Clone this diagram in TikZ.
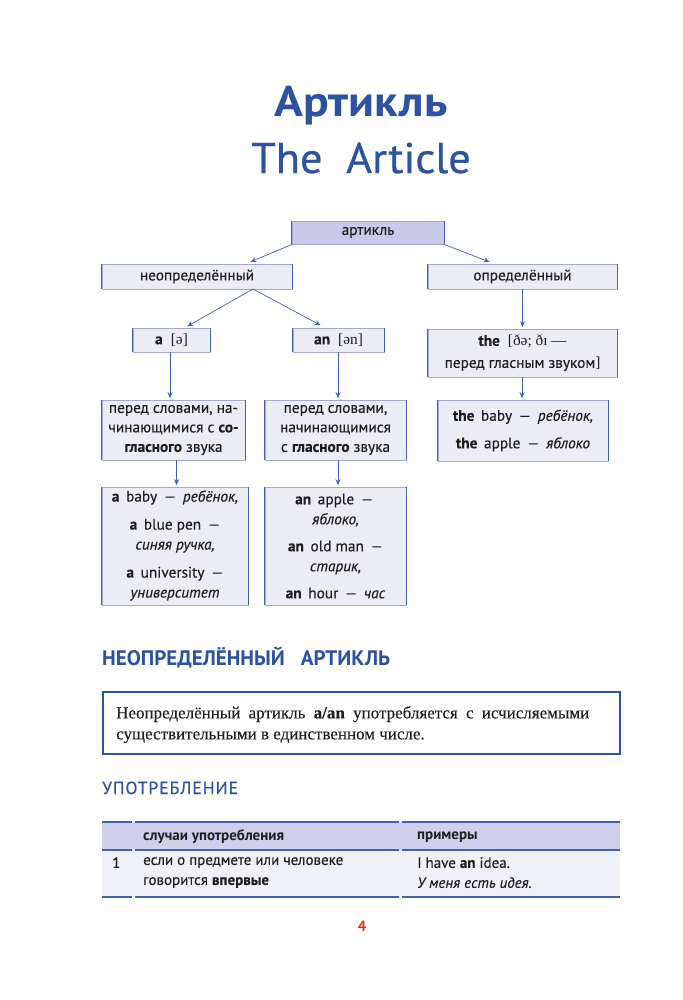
\documentclass[tikz,border=0pt]{standalone}
\usepackage{fontspec}
\setmainfont{PT Sans}
\newfontfamily\serif{Liberation Serif}
\usetikzlibrary{arrows.meta,calc}
\definecolor{tblue}{HTML}{2C52A0}
\definecolor{lblue}{HTML}{4262AC}
\definecolor{boxfill}{HTML}{ECECF7}
\definecolor{rootfill}{HTML}{C9C9E9}
\definecolor{edgecol}{HTML}{A3AACB}
\definecolor{hdrfill}{HTML}{D0D0EC}
\definecolor{rowfill}{HTML}{F0F0F8}
\definecolor{pnum}{HTML}{D8301E}
\definecolor{txt}{HTML}{1E1E1E}
\newcommand{\mydash}{\hspace{2.5pt} —\hspace{2.5pt} }
\begin{document}
\begin{tikzpicture}[x=1pt,y=-1pt,
  box/.style={draw=edgecol, line width=0.6pt, fill=boxfill, inner sep=0pt, align=center, text=txt,
    font=\fontsize{15.3}{19.5}\selectfont\addfontfeature{FakeBold=0.25}},
  arr/.style={draw=lblue, line width=0.7pt, -{Stealth[length=6pt,width=5pt]}, shorten >=1.5pt},
  side/.style={draw=lblue, line width=1pt},
  tline/.style={draw=lblue, line width=1.2pt},
  ttext/.style={anchor=west, inner sep=0pt, text=txt, font=\fontsize{15}{20}\selectfont\addfontfeature{FakeBold=0.2}, align=left}]
\useasboundingbox (0,0) rectangle (682,1000);

% title
\node[text=tblue, font=\fontsize{43}{50}\bfseries\selectfont\addfontfeature{FakeStretch=1.11}] (t1) at (361,106) {Артикль};
\node[text=tblue, font=\fontsize{43}{50}\selectfont\addfontfeature{FakeBold=0.6,FakeStretch=1.03}] (t2) at (361,158) {The\ \ Article};

% diagram boxes
\node[box, fill=rootfill, minimum width=152pt, minimum height=23pt] (root) at (368,232.5) {артикль};
\node[box, minimum width=190pt, minimum height=25pt] (indef) at (197,276.5) {неопределённый};
\node[box, minimum width=189pt, minimum height=25pt] (def) at (522.5,276.5) {определённый};
\node[box, minimum width=77pt, minimum height=24pt] (a) at (171.5,340) {\textbf{a}\ \ {\serif[ə]}};
\node[box, minimum width=91pt, minimum height=24pt] (an) at (338.5,340) {\textbf{an}\ \ {\serif[ən]}};
\node[box, minimum width=189pt, minimum height=48pt, font=\fontsize{15.3}{22}\selectfont\addfontfeature{FakeBold=0.25}] (the) at (522.5,353)
  {\textbf{the}\ \ {\serif[ðə; ðɪ —}\\перед гласным звуком{\serif]}};
\node[box, minimum width=143pt, minimum height=60pt] (acond) at (173.5,430)
  {перед словами, на-\\чинающимися с \textbf{со-}\\\textbf{гласного} звука};
\node[box, minimum width=141pt, minimum height=60pt] (ancond) at (335.5,430)
  {перед словами,\\начинающимися\\с \textbf{гласного} звука};
\node[box, minimum width=170pt, minimum height=61pt] (theex) at (523,430.5)
  {\textbf{the}\, baby\mydash\textit{ребёнок,}\\[8pt]\textbf{the}\, apple\mydash\textit{яблоко}\rule[-3pt]{0pt}{3pt}};
\node[box, minimum width=146pt, minimum height=118pt, font=\fontsize{15.3}{20}\selectfont\addfontfeature{FakeBold=0.25}] (aex) at (175,546)
  {\textbf{a}\, baby\mydash\textit{ребёнок,}\\[8pt]\textbf{a}\, blue pen\mydash\\\textit{синяя ручка,}\\[8pt]\textbf{a}\, university\mydash\\\textit{университет}\rule[-4pt]{0pt}{4pt}};
\node[box, minimum width=141pt, minimum height=118pt, font=\fontsize{15.3}{20}\selectfont\addfontfeature{FakeBold=0.25}] (anex) at (335.5,546)
  {\textbf{an}\, apple\mydash\\\textit{яблоко,}\\[7pt]\textbf{an}\, old man\mydash\\\textit{старик,}\\[7pt]\textbf{an}\, hour\mydash\textit{час}};

\foreach \n in {root,indef,def,a,an,the,acond,ancond,theex,aex,anex}
  \draw[side] (\n.north west) -- (\n.south west) (\n.north east) -- (\n.south east);

% connectors
\coordinate (rl) at ($(root.south west)+(0.5,0)$);
\coordinate (rr) at ($(root.south east)+(-0.5,0)$);
\coordinate (il) at (249,262.5);
\coordinate (ir) at (491,262.5);
\draw[arr] (rl) -- (il);
\draw[arr] (rr) -- (ir);
\coordinate (ib) at (253,289);
\coordinate (ta) at (186,327);
\coordinate (tan) at (322,326);
\draw[arr] (ib) -- (ta);
\draw[arr] (ib) -- (tan);
\draw[arr] (a.south -| 170,0) -- (acond.north -| 170,0);
\draw[arr] (an.south -| 338,0) -- (ancond.north -| 338,0);
\draw[arr] (def.south -| 522.5,0) -- (the.north -| 522.5,0);
\draw[arr] (the.south -| 522,0) -- (theex.north -| 522,0);
\draw[arr] (acond.south -| 176.5,0) -- (aex.north -| 176.5,0);
\draw[arr] (ancond.south -| 338,0) -- (anex.north -| 338,0);

% heading
\node[anchor=base west, inner sep=0pt, text=tblue, font=\fontsize{21}{24}\bfseries\selectfont] (h1) at (102,665)
  {НЕОПРЕДЕЛЁННЫЙ\ \ \ АРТИКЛЬ};

% definition box
\draw[draw=tblue, line width=1.4pt, fill=white] (103,692) rectangle (620,754);
\node[anchor=north west, inner sep=0pt, text width=473pt, align=justify, text=txt,
  font=\serif\fontsize{17}{21}\selectfont\addfontfeature{FakeBold=0.2}] (def1) at (116,706)
  {Неопределённый артикль \textbf{a/an} употребляется с исчисляемыми существительными в единственном числе.};

% subheading
\node[anchor=base west, inner sep=0pt, text=tblue, font=\fontsize{17.5}{20}\selectfont\addfontfeature{LetterSpace=6,FakeBold=0.5}] (h2) at (102,794)
  {УПОТРЕБЛЕНИЕ};

% table
\fill[hdrfill] (102,822) rectangle (620,850);
\fill[rowfill] (102,850) rectangle (620,897);
\foreach \y in {822,850,897}{
  \draw[tline] (102,\y) -- (132,\y);
  \draw[tline] (135,\y) -- (399,\y);
  \draw[tline] (402,\y) -- (620,\y);
}
\node[ttext, font=\fontsize{15}{20}\bfseries\selectfont] (c1) at (143,837) {случаи употребления};
\node[ttext, font=\fontsize{15}{20}\bfseries\selectfont] (c2) at (417,837) {примеры};
\node[ttext, anchor=north west] (n1) at (112,857) {1};
\node[ttext, anchor=north west] (r1) at (143,857) {если о предмете или человеке\\говорится \textbf{впервые}};
\node[ttext, anchor=north west] (r2) at (417,857) {I have \textbf{an} idea.\\\textit{У меня есть идея.}};

% page number
\node[text=pnum, font=\fontsize{15}{18}\bfseries\selectfont] (pn) at (362,926) {4};
\end{tikzpicture}
\end{document}
